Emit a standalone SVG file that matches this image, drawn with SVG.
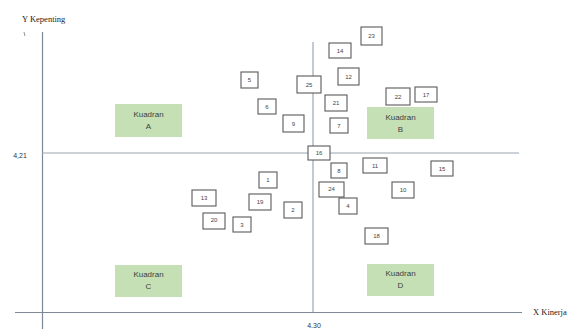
<svg xmlns="http://www.w3.org/2000/svg" width="576" height="329" viewBox="0 0 576 329">
<style>
.ax{stroke:#7d8994;stroke-width:1.2;fill:none}
.mid{stroke:#9aa6b2;stroke-width:1.2;fill:none}
.box{fill:#fff;stroke:#5a5a5a;stroke-width:1.1}
.num{font-family:"Liberation Sans",Arial,sans-serif;font-size:6px;fill:#444;text-anchor:middle;dominant-baseline:central}
.q{fill:#c5e0b4}
.qt{font-family:"Liberation Sans",Arial,sans-serif;font-size:8px;fill:#404040;text-anchor:middle;dominant-baseline:central}
.lbl{font-family:"Liberation Serif","Times New Roman",serif;font-size:8.5px;fill:#222;dominant-baseline:central}
.val{font-family:"Liberation Sans",Arial,sans-serif;font-size:7px;fill:#333;text-anchor:middle;dominant-baseline:central}
</style>
<rect width="576" height="329" fill="#fff"/>
<g id="connectors">
<line class="ax" x1="42.5" y1="32" x2="42.5" y2="329"/>
<line class="ax" x1="15" y1="312.5" x2="522" y2="312.5"/>
<line class="mid" x1="42" y1="153" x2="519" y2="153"/>
<line class="mid" x1="313" y1="42" x2="313" y2="312"/>
<line x1="24" y1="32" x2="25" y2="36" stroke="#777" stroke-width="0.8"/>
</g>
<g id="labels">
<text class="lbl" x="22" y="19">Y  Kepenting</text>
<text class="lbl" x="533" y="312">X  Kinerja</text>
<text class="val" x="20" y="155">4,21</text>
<text class="val" x="314" y="325">4.30</text>
</g>
<g id="kuadranA"><rect class="q" x="115" y="104" width="67" height="33"/><text class="qt" x="148.5" y="114">Kuadran</text><text class="qt" x="148.5" y="126">A</text></g>
<g id="kuadranB"><rect class="q" x="367" y="107" width="67" height="32"/><text class="qt" x="400.5" y="117">Kuadran</text><text class="qt" x="400.5" y="129">B</text></g>
<g id="kuadranC"><rect class="q" x="115" y="265" width="67" height="32"/><text class="qt" x="148.5" y="274">Kuadran</text><text class="qt" x="148.5" y="286">C</text></g>
<g id="kuadranD"><rect class="q" x="367" y="264" width="67" height="32"/><text class="qt" x="400.5" y="273">Kuadran</text><text class="qt" x="400.5" y="285">D</text></g>
<g id="n23"><rect class="box" x="361" y="27" width="21" height="18"/><text class="num" x="371.5" y="36">23</text></g>
<g id="n14"><rect class="box" x="329" y="43" width="22" height="15"/><text class="num" x="340" y="50.5">14</text></g>
<g id="n12"><rect class="box" x="338" y="68" width="21" height="17"/><text class="num" x="348.5" y="76.5">12</text></g>
<g id="n5"><rect class="box" x="241" y="72" width="17" height="16"/><text class="num" x="249.5" y="80">5</text></g>
<g id="n25"><rect class="box" x="297" y="76" width="24" height="17"/><text class="num" x="309" y="84.5">25</text></g>
<g id="n22"><rect class="box" x="386" y="88" width="24" height="17"/><text class="num" x="398" y="96.5">22</text></g>
<g id="n17"><rect class="box" x="415" y="87" width="22" height="15"/><text class="num" x="426" y="94.5">17</text></g>
<g id="n6"><rect class="box" x="258" y="99" width="18" height="15"/><text class="num" x="267" y="106.5">6</text></g>
<g id="n21"><rect class="box" x="325" y="95" width="22" height="16"/><text class="num" x="336" y="103">21</text></g>
<g id="n9"><rect class="box" x="283" y="115" width="21" height="17"/><text class="num" x="293.5" y="123.5">9</text></g>
<g id="n7"><rect class="box" x="330" y="118" width="18" height="15"/><text class="num" x="339" y="125.5">7</text></g>
<g id="n16"><rect class="box" x="308" y="146" width="22" height="14"/><text class="num" x="319" y="153">16</text></g>
<g id="n8"><rect class="box" x="331" y="163" width="16" height="15"/><text class="num" x="339" y="170.5">8</text></g>
<g id="n11"><rect class="box" x="363" y="158" width="24" height="15"/><text class="num" x="375" y="165.5">11</text></g>
<g id="n15"><rect class="box" x="431" y="161" width="22" height="15"/><text class="num" x="442" y="168.5">15</text></g>
<g id="n10"><rect class="box" x="392" y="182" width="22" height="16"/><text class="num" x="403" y="190">10</text></g>
<g id="n18"><rect class="box" x="365" y="228" width="23" height="16"/><text class="num" x="376.5" y="236">18</text></g>
<g id="n4"><rect class="box" x="339" y="198" width="18" height="16"/><text class="num" x="348" y="206">4</text></g>
<g id="n24"><rect class="box" x="319" y="182" width="25" height="15"/><text class="num" x="331.5" y="189">24</text></g>
<g id="n1"><rect class="box" x="259" y="172" width="18" height="16"/><text class="num" x="268" y="180">1</text></g>
<g id="n13"><rect class="box" x="192" y="190" width="24" height="16"/><text class="num" x="204" y="198">13</text></g>
<g id="n19"><rect class="box" x="249" y="194" width="22" height="16"/><text class="num" x="260" y="202">19</text></g>
<g id="n2"><rect class="box" x="284" y="202" width="18" height="16"/><text class="num" x="293" y="210">2</text></g>
<g id="n20"><rect class="box" x="203" y="213" width="22" height="16"/><text class="num" x="214" y="220">20</text></g>
<g id="n3"><rect class="box" x="233" y="217" width="18" height="15"/><text class="num" x="242" y="224.5">3</text></g>
</svg>
